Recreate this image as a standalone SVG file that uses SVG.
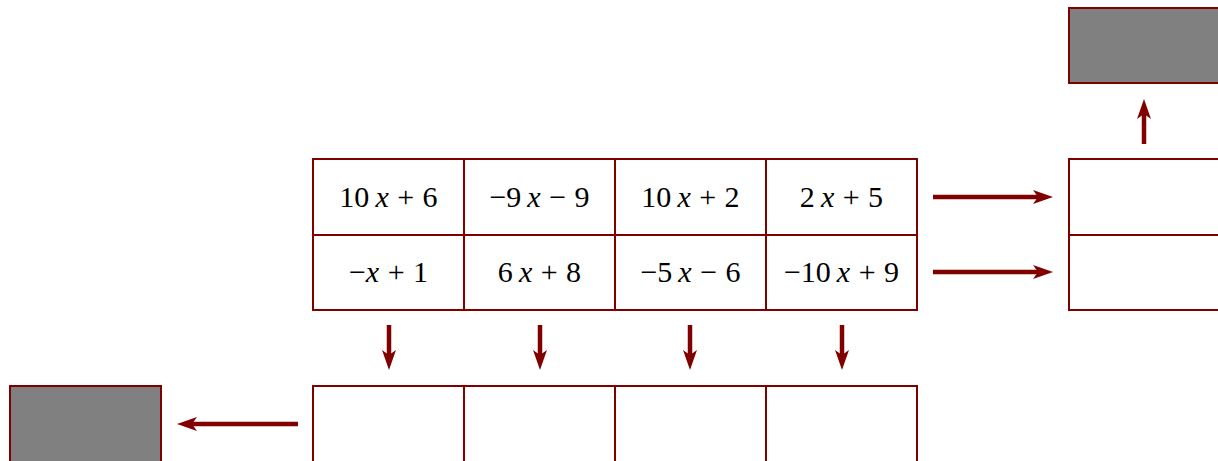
<svg xmlns="http://www.w3.org/2000/svg" width="1218" height="461" viewBox="0 0 1218 461">
<style>
.box{fill:#ffffff;stroke:#800000;stroke-width:2}
.gray{fill:#808080;stroke:#800000;stroke-width:2}
.arr{stroke:#800000;stroke-width:4.5;fill:none;marker-end:url(#head)}
.t{font-family:"Liberation Serif","DejaVu Serif",serif;font-size:30px;word-spacing:1px;fill:#000;text-anchor:middle}
.v{font-style:italic}
</style>
<defs>
<marker id="head" markerUnits="userSpaceOnUse" viewBox="0 0 20 14" markerWidth="20" markerHeight="14" refX="8" refY="7" orient="auto">
<path d="M0,0 L20,7 L0,14 L5,7 Z" fill="#800000"/>
</marker>
</defs>
<rect width="1218" height="461" fill="#ffffff"/>
<g id="table">
<g id="c11"><rect class="box" x="313" y="159" width="151" height="76"/><text class="t" x="388.5" y="207">10&#8201;<tspan class="v">x</tspan> + 6</text></g>
<g id="c12"><rect class="box" x="464" y="159" width="151" height="76"/><text class="t" x="539.5" y="207">−9&#8201;<tspan class="v">x</tspan> − 9</text></g>
<g id="c13"><rect class="box" x="615" y="159" width="151" height="76"/><text class="t" x="690.5" y="207">10&#8201;<tspan class="v">x</tspan> + 2</text></g>
<g id="c14"><rect class="box" x="766" y="159" width="151" height="76"/><text class="t" x="841.5" y="207">2&#8201;<tspan class="v">x</tspan> + 5</text></g>
<g id="c21"><rect class="box" x="313" y="235" width="151" height="75"/><text class="t" x="388.5" y="282">−<tspan class="v">x</tspan> + 1</text></g>
<g id="c22"><rect class="box" x="464" y="235" width="151" height="75"/><text class="t" x="539.5" y="282">6&#8201;<tspan class="v">x</tspan> + 8</text></g>
<g id="c23"><rect class="box" x="615" y="235" width="151" height="75"/><text class="t" x="690.5" y="282">−5&#8201;<tspan class="v">x</tspan> − 6</text></g>
<g id="c24"><rect class="box" x="766" y="235" width="151" height="75"/><text class="t" x="841.5" y="282">−10&#8201;<tspan class="v">x</tspan> + 9</text></g>
</g>
<g id="bottom">
<rect class="box" x="313" y="386" width="151" height="80"/>
<rect class="box" x="464" y="386" width="151" height="80"/>
<rect class="box" x="615" y="386" width="151" height="80"/>
<rect class="box" x="766" y="386" width="151" height="80"/>
</g>
<g id="leftgray"><rect class="gray" x="10" y="386" width="151" height="80"/></g>
<g id="right">
<rect class="box" x="1069" y="159" width="160" height="76"/>
<rect class="box" x="1069" y="235" width="160" height="75"/>
</g>
<g id="topgray"><rect class="gray" x="1069" y="8" width="160" height="75"/></g>
<g id="connectors">
<path class="arr" d="M933,197 H1041"/>
<path class="arr" d="M933,272 H1041"/>
<path class="arr" d="M1144,144 V111"/>
<path class="arr" d="M389,325 V358"/>
<path class="arr" d="M540,325 V358"/>
<path class="arr" d="M690,325 V358"/>
<path class="arr" d="M842,325 V358"/>
<path class="arr" d="M298,424 H189"/>
</g>
</svg>
